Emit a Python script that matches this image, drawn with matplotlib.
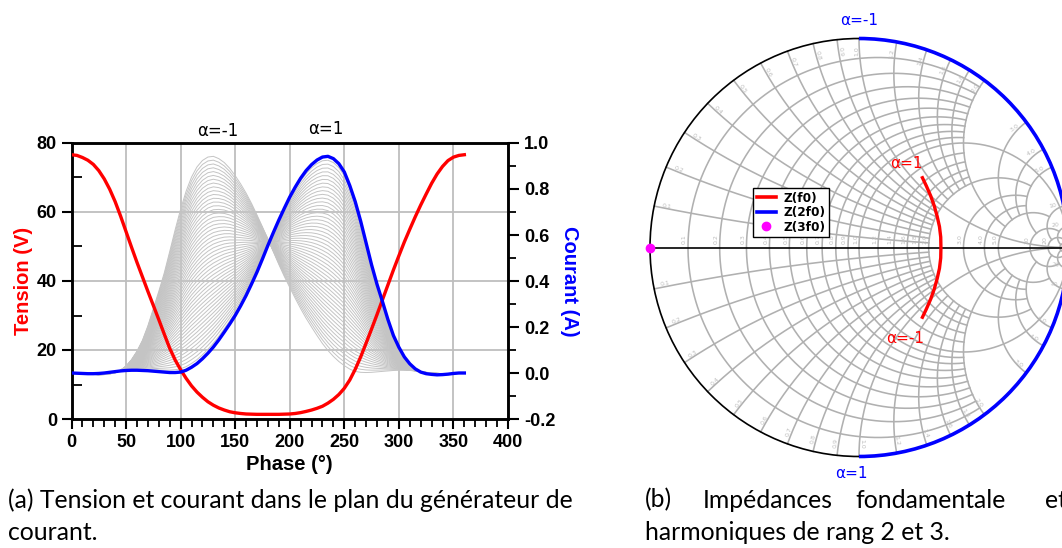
import numpy as np
import matplotlib
matplotlib.use("Agg")
import matplotlib.pyplot as plt
from matplotlib import patches
from matplotlib.lines import Line2D
from matplotlib.ticker import MultipleLocator

plt.rcParams["font.family"] = ["Liberation Sans", "DejaVu Sans"]
plt.rcParams["axes.unicode_minus"] = False

# ---------------- (a) tension / courant vs phase ----------------
phase = list(range(0, 365, 5))
tension = [76.6, 76.4, 75.8, 75.0, 73.8, 72.0, 69.6, 66.6, 63.0, 58.8, 54.3, 49.8, 45.4, 41.2,
           37.0, 32.9, 28.8, 24.6, 20.5, 17.1, 14.3, 11.8, 9.6, 7.8, 6.3, 5.0, 4.0, 3.2, 2.6,
           2.1, 1.8, 1.6, 1.45, 1.4, 1.35, 1.35, 1.35, 1.35, 1.35, 1.4, 1.45, 1.6, 1.85, 2.2,
           2.6, 3.1, 3.7, 4.6, 5.7, 7.1, 8.9, 11.3, 14.4, 18.0, 22.0, 26.1, 30.3, 34.6, 38.9,
           43.2, 47.3, 51.3, 55.0, 58.6, 62.0, 65.2, 68.3, 71.0, 73.2, 74.9, 75.9, 76.4, 76.6]
courant_alpha_p1 = [0.0, -0.001, -0.002, -0.003, -0.003, -0.002, 0.0, 0.003, 0.006, 0.009, 0.011,
                    0.012, 0.012, 0.011, 0.010, 0.008, 0.006, 0.004, 0.002, 0.002, 0.004, 0.012,
                    0.025, 0.041, 0.062, 0.086, 0.113, 0.144, 0.178, 0.213, 0.250, 0.292, 0.337,
                    0.387, 0.439, 0.496, 0.555, 0.611, 0.665, 0.716, 0.765, 0.808, 0.847, 0.880,
                    0.906, 0.926, 0.939, 0.942, 0.932, 0.910, 0.874, 0.815, 0.745, 0.660, 0.565,
                    0.470, 0.385, 0.310, 0.232, 0.163, 0.112, 0.070, 0.040, 0.018, 0.004, -0.003,
                    -0.006, -0.008, -0.007, -0.005, -0.002, 0.0, 0.0]
courant_alpha_m1 = [0.0, 0.0, -0.001, -0.004, -0.006, -0.008, -0.007, -0.004, 0.001, 0.012, 0.030,
                    0.058, 0.095, 0.142, 0.205, 0.280, 0.355, 0.435, 0.528, 0.623, 0.712, 0.790,
                    0.852, 0.896, 0.924, 0.939, 0.942, 0.932, 0.915, 0.890, 0.858, 0.822, 0.782,
                    0.737, 0.687, 0.635, 0.582, 0.527, 0.472, 0.420, 0.372, 0.325, 0.280, 0.238,
                    0.200, 0.163, 0.128, 0.098, 0.072, 0.050, 0.032, 0.017, 0.007, 0.003, 0.002,
                    0.003, 0.005, 0.007, 0.009, 0.011, 0.012, 0.012, 0.011, 0.009, 0.006, 0.003,
                    0.001, -0.001, -0.003, -0.003, -0.002, -0.001, 0.0]
# intermediate states between alpha = -1 and alpha = 1
alphas = np.linspace(-1, 1, 51)

fig = plt.figure(figsize=(10.62, 5.48), dpi=100)
W, H = 1062.0, 548.0

ax = fig.add_axes([71.5 / W, 1 - 419 / H, 436.5 / W, 276 / H])
ax2 = ax.twinx()

ax.set_xlim(0, 400)
ax.set_ylim(0, 80)
ax2.set_ylim(-0.2, 1.0)

ax.xaxis.set_major_locator(MultipleLocator(50))
ax.xaxis.set_minor_locator(MultipleLocator(10))
ax.yaxis.set_major_locator(MultipleLocator(20))
ax.yaxis.set_minor_locator(MultipleLocator(10))
ax2.yaxis.set_major_locator(MultipleLocator(0.2))
ax2.yaxis.set_minor_locator(MultipleLocator(0.1))
ax2.yaxis.set_major_formatter(plt.FuncFormatter(lambda v, p: f"{v:.1f}"))

ax.grid(True, which="major", color="#bebebe", lw=1.3)
ax.set_axisbelow(True)

f_m1 = np.array(courant_alpha_m1)
f_p1 = np.array(courant_alpha_p1)
for a in alphas:
    ax2.plot(phase, (1 - a) / 2 * f_m1 + (1 + a) / 2 * f_p1, color="#c4c4c4", lw=0.7, zorder=1)
ax2.plot(phase, tension, color="red", lw=2.4, zorder=3, transform=ax.transData)
ax2.plot(phase, courant_alpha_p1, color="blue", lw=2.4, zorder=4)

for s in ax.spines.values():
    s.set_linewidth(1.8)
for s in ax2.spines.values():
    s.set_linewidth(1.8)

tick_font = dict(labelsize=13)
ax.tick_params(axis="x", which="major", direction="out", length=7, width=1.5, **tick_font)
ax.tick_params(axis="x", which="minor", direction="out", length=6, width=1.3)
ax.tick_params(axis="y", which="major", direction="out", length=7, width=1.5, **tick_font)
ax.tick_params(axis="y", which="minor", direction="in", length=7, width=1.3)
ax2.tick_params(axis="y", which="major", direction="out", length=8, width=1.5, **tick_font)
ax2.tick_params(axis="y", which="minor", direction="out", length=6, width=1.3)
for lab in ax.get_xticklabels() + ax.get_yticklabels() + ax2.get_yticklabels():
    lab.set_fontweight("bold")

ax.set_xlabel("Phase (°)", fontsize=14.5, fontweight="bold", labelpad=3)
ax.set_ylabel("Tension (V)", fontsize=14.5, fontweight="bold", color="red", labelpad=3)
ax2.set_ylabel("Courant (A)", fontsize=14.5, fontweight="bold", color="blue", rotation=-90,
               labelpad=17)

ax2.annotate("α=-1", xy=(130, 0.942), xytext=(3, 18), textcoords="offset points",
             ha="center", va="center", fontsize=12, family="DejaVu Sans", annotation_clip=False)
ax2.annotate("α=1", xy=(235, 0.942), xytext=(-1.5, 19.5), textcoords="offset points",
             ha="center", va="center", fontsize=12, family="DejaVu Sans", annotation_clip=False)

# ---------------- (b) Smith chart ----------------
r_ticks = [0.1, 0.2, 0.3, 0.4, 0.5, 0.6, 0.7, 0.8, 0.9, 1.0, 1.2, 1.4, 1.6, 1.8, 2.0,
           3.0, 4.0, 5.0, 10, 20, 50]
x_ticks = r_ticks
label_ticks = [0.1, 0.2, 0.3, 0.4, 0.5, 0.6, 0.7, 0.8, 0.9, 1.0, 1.2, 1.4, 1.6, 1.8, 2.0,
               3.0, 4.0, 5.0, 10, 20]

# Z(f0): reflection coefficient, alpha = 1 -> alpha = -1
gamma_f0_re = [0.300, 0.322, 0.343, 0.360, 0.374, 0.385, 0.391, 0.392, 0.391, 0.385, 0.374,
               0.360, 0.343, 0.322, 0.300]
gamma_f0_im = [0.341, 0.295, 0.247, 0.199, 0.149, 0.100, 0.050, 0.0, -0.050, -0.100, -0.149,
               -0.199, -0.247, -0.295, -0.341]
# Z(2f0): |gamma| = 1, phase from alpha=-1 to alpha=1 (deg)
gamma_2f0_mag = 1.0
gamma_2f0_phase = [90, -90]
# Z(3f0): short circuit
gamma_3f0 = (-1.0, 0.0)

R = 209.0
cx, cy = 859.0, 247.5
ext = 1.1
axs = fig.add_axes([(cx - ext * R) / W, 1 - (cy + ext * R) / H, 2 * ext * R / W, 2 * ext * R / H])
axs.set_xlim(-ext, ext)
axs.set_ylim(-ext, ext)
axs.axis("off")


def gam(z):
    return (z - 1) / (z + 1)


def line_limit(v):
    # how far a grid line runs before the mesh gets too dense
    if v == 1.0:
        return np.inf
    if v <= 1.8:
        return 2.0
    if v <= 4.0:
        return 5.0
    if v == 5.0:
        return 10.0
    if v == 10:
        return 20.0
    if v == 20:
        return 50.0
    return np.inf


gc = "#b0b0b0"
glw = 1.15
for r in r_ticks:
    xm = line_limit(r)
    tm = np.arctan(xm) if np.isfinite(xm) else np.pi / 2 * 0.9995
    xs = np.tan(np.linspace(-tm, tm, 400))
    g = gam(r + 1j * xs)
    axs.plot(g.real, g.imag, color=gc, lw=glw, zorder=1)
for x in x_ticks:
    rm = line_limit(x)
    tm = np.arctan(rm) if np.isfinite(rm) else np.pi / 2 * 0.9995
    rs = np.tan(np.linspace(0, tm, 300))
    for sgn in (1, -1):
        g = gam(rs + 1j * sgn * x)
        axs.plot(g.real, g.imag, color=gc, lw=glw, zorder=1)

axs.add_patch(patches.Circle((0, 0), 1, fill=False, ec="black", lw=1.2, zorder=2))
axs.plot([-1, 1], [0, 0], color="black", lw=1.2, zorder=2)

lab_c = "#bdbdbd"
for r in label_ticks:
    g = gam(r)
    txt = f"{r:.1f}" if r < 10 else f"{int(r)}"
    axs.text(g - 0.005, 0.015, txt, rotation=90, ha="right", va="bottom", fontsize=4.5,
             color=lab_c, family="DejaVu Sans", zorder=1.5)
for x in label_ticks:
    txt = f"{x:.1f}" if x < 10 else f"{int(x)}"
    for sgn in (1, -1):
        g = gam(1j * sgn * x)
        phi = np.degrees(np.angle(g))
        p = 0.965 * g
        if abs(phi) > 90:
            rot, ha = phi + 180, "left"
        else:
            rot, ha = phi, "right"
        axs.text(p.real, p.imag, txt, rotation=rot, rotation_mode="anchor", ha=ha, va="bottom",
                 fontsize=4.5, color=lab_c, family="DejaVu Sans", zorder=1.5)

axs.add_patch(patches.Arc((0, 0), 2 * gamma_2f0_mag, 2 * gamma_2f0_mag,
                          theta1=gamma_2f0_phase[1], theta2=gamma_2f0_phase[0],
                          color="blue", lw=2.6, zorder=4))
axs.plot(gamma_f0_re, gamma_f0_im, color="red", lw=2.4, zorder=5, solid_capstyle="butt")
axs.plot([gamma_3f0[0]], [gamma_3f0[1]], "o", color="magenta", ms=6, zorder=6, clip_on=False)

axs.annotate("α=1", xy=(gamma_f0_re[0], gamma_f0_im[0]), xytext=(-11, 9.5),
             textcoords="offset points", ha="center", va="center", color="red", fontsize=11,
             family="DejaVu Sans")
axs.annotate("α=-1", xy=(gamma_f0_re[-1], gamma_f0_im[-1]), xytext=(-12, -14),
             textcoords="offset points", ha="center", va="center", color="red", fontsize=11,
             family="DejaVu Sans")
axs.annotate("α=-1", xy=(0, gamma_2f0_mag), xytext=(0, 13.3), textcoords="offset points",
             ha="center", va="center", color="blue", fontsize=11, family="DejaVu Sans")
axs.annotate("α=1", xy=(0, -gamma_2f0_mag), xytext=(-5.8, -12), textcoords="offset points",
             ha="center", va="center", color="blue", fontsize=11, family="DejaVu Sans",
             annotation_clip=False)

handles = [Line2D([], [], color="red", lw=2.6),
           Line2D([], [], color="blue", lw=2.6),
           Line2D([], [], color="magenta", marker="o", ls="none", ms=6)]
leg = axs.legend(handles, ["Z(f0)", "Z(2f0)", "Z(3f0)"], loc="upper left",
                 bbox_to_anchor=(753 / W, 1 - 188 / H), bbox_transform=fig.transFigure,
                 prop=dict(weight="bold", size=8.7, family="DejaVu Sans"), fancybox=False,
                 framealpha=1, edgecolor="black", borderpad=0.3, labelspacing=0.12,
                 handlelength=1.6, handletextpad=0.6, borderaxespad=0)
leg.get_frame().set_linewidth(1.0)

# ---------------- captions ----------------
cap = dict(fontsize=17.8, family="Lato", va="center", ha="left")
fig.text(8 / W, 1 - 500 / H, "(a) Tension et courant dans le plan du générateur de", **cap)
fig.text(8 / W, 1 - 533 / H, "courant.", **cap)
for word, px in [("(b)", 645), ("Impédances", 703), ("fondamentale", 855), ("et", 1045)]:
    fig.text(px / W, 1 - 500 / H, word, **cap)
fig.text(645 / W, 1 - 533 / H, "harmoniques de rang 2 et 3.", **cap)

fig.savefig("out.png", dpi=100)
